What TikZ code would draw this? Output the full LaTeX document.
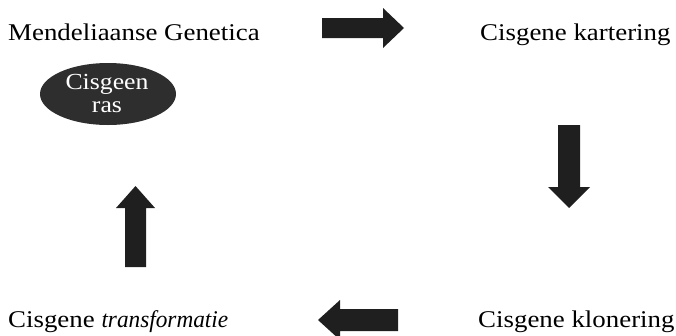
\documentclass[tikz,border=0pt]{standalone}
\usepackage{fontspec}
\setmainfont[FakeStretch=1.12,ItalicFeatures={FakeStretch=0.97}]{Liberation Serif}
\usetikzlibrary{shapes.geometric}
\begin{document}
\begin{tikzpicture}[x=1pt,y=-1pt,
  lbl/.style={anchor=base west,inner sep=0pt,font=\fontsize{24}{27}\selectfont},
  fatarrow/.style={fill=black!88,draw=none},
  blob/.style={ellipse,fill=black!82,inner sep=0pt,minimum width=136pt,minimum height=62pt},
  blobtext/.style={text=white,inner sep=0pt,align=center,font=\fontsize{23}{23}\selectfont}]
\useasboundingbox (0,0) rectangle (676,335);
\node[lbl] (mg) at (8,40) {Mendeliaanse Genetica};
\node[lbl] (ck) at (480,40) {Cisgene kartering};
\node[lbl] (ct) at (8,327) {Cisgene \textit{transformatie}};
\node[lbl] (cl) at (478,327) {Cisgene klonering};
\node[blob] (ras) at (108,94) {};
\node[blobtext] (rastxt) at (107,93) {Cisgeen\\ras};
% right arrow
\fill[fatarrow] (322,18) -- (383,18) -- (383,8) -- (404,28) -- (383,48) -- (383,38) -- (322,38) -- cycle;
% down arrow
\fill[fatarrow] (558,125) -- (580,125) -- (580,187) -- (590,187) -- (569,208) -- (548,187) -- (558,187) -- cycle;
% left arrow
\fill[fatarrow] (398,309) -- (340,309) -- (340,300) -- (318,320) -- (340,340) -- (340,331) -- (398,331) -- cycle;
% up arrow
\fill[fatarrow] (125,267) -- (146,267) -- (146,208) -- (155,208) -- (135.5,186) -- (116,208) -- (125,208) -- cycle;
\end{tikzpicture}
\end{document}
